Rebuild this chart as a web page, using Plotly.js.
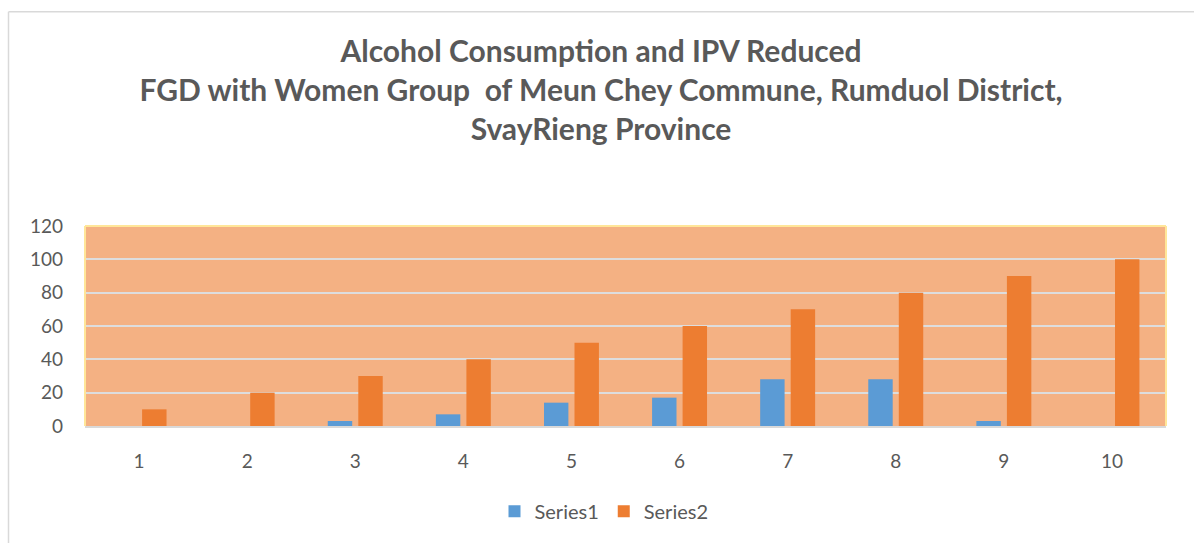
<!DOCTYPE html>
<html>
<head>
<meta charset="utf-8">
<script src="https://cdn.plot.ly/plotly-3.0.1.min.js"></script>
<style>
  html, body { margin: 0; padding: 0; background: #ffffff; }
  #chart { width: 1194px; height: 543px; }
</style>
</head>
<body>
<div id="chart"></div>
<script>
// ---- data ----
const categories = ["1", "2", "3", "4", "5", "6", "7", "8", "9", "10"];
const series1Name = "Series1";
const series1Values = [0, 0, 3, 7, 14, 17, 28, 28, 3, 0];
const series2Name = "Series2";
const series2Values = [10, 20, 30, 40, 50, 60, 70, 80, 90, 100];
const titleLines = [
  "Alcohol Consumption and IPV Reduced",
  "FGD with Women Group  of Meun Chey Commune, Rumduol District,",
  "SvayRieng Province"
];
const yTickValues = [0, 20, 40, 60, 80, 100, 120];

// ---- layout geometry (pixels) ----
const W = 1194, H = 543;
const M = { l: 85, r: 28, t: 226, b: 115 };
const plotW = W - M.l - M.r, plotH = H - M.t - M.b;
const px2x = px => (px - M.l) / plotW;
const px2y = py => 1 - (py - M.t) / plotH;

const textColor = "#595959";
const fontFam = "Lato, 'Open Sans', 'Liberation Sans', sans-serif";

const traces = [
  {
    type: "bar",
    name: series1Name,
    x: categories,
    y: series1Values,
    marker: { color: "#5B9BD5" },
    hoverinfo: "x+y+name"
  },
  {
    type: "bar",
    name: series2Name,
    x: categories,
    y: series2Values,
    marker: { color: "#ED7D31" },
    hoverinfo: "x+y+name"
  }
];

const layout = {
  width: W,
  height: H,
  margin: M,
  paper_bgcolor: "#ffffff",
  plot_bgcolor: "#F4B183",
  barmode: "group",
  bargap: 0.435,
  bargroupgap: 0.2,
  font: { family: fontFam, color: textColor, size: 19 },
  title: {
    text: titleLines.join("<br>"),
    font: { family: fontFam, size: 30, color: textColor, weight: "bold" },
    x: 601 / W,
    xref: "container",
    xanchor: "center",
    y: 1 - 62 / H,
    yref: "container",
    yanchor: "middle"
  },
  xaxis: {
    type: "category",
    showgrid: false,
    showline: true,
    linecolor: "#D9D9D9",
    linewidth: 1.5,
    ticks: "",
    ticklabelstandoff: 17,
    tickfont: { family: fontFam, size: 19, color: textColor },
    fixedrange: true
  },
  yaxis: {
    range: [0, 120],
    tickvals: yTickValues,
    showgrid: true,
    gridcolor: "#DDDDDD",
    gridwidth: 1.5,
    zeroline: false,
    showline: false,
    ticks: "",
    ticklabelstandoff: 21,
    tickfont: { family: fontFam, size: 19, color: textColor },
    fixedrange: true
  },
  legend: {
    orientation: "h",
    x: px2x(604),
    xanchor: "center",
    y: px2y(514),
    yanchor: "middle",
    font: { family: fontFam, size: 20, color: textColor },
    itemclick: false,
    bgcolor: "rgba(0,0,0,0)"
  },
  showlegend: true,
  shapes: [
    // plot-area frame (left, top, right)
    { type: "line", xref: "paper", yref: "paper", x0: 0, x1: 0, y0: 0, y1: 1,
      line: { color: "#FFE699", width: 2 }, layer: "above" },
    { type: "line", xref: "paper", yref: "paper", x0: 0, x1: 1, y0: 1, y1: 1,
      line: { color: "#FFE699", width: 2 }, layer: "above" },
    { type: "line", xref: "paper", yref: "paper", x0: 1, x1: 1, y0: 0, y1: 1,
      line: { color: "#FFE699", width: 2 }, layer: "above" },
    // chart-area outer frame (left and top edges visible)
    { type: "line", xref: "paper", yref: "paper", x0: px2x(8.5), x1: px2x(8.5), y0: px2y(9.5), y1: px2y(560),
      line: { color: "#D9D9D9", width: 1.5 }, layer: "above" },
    { type: "line", xref: "paper", yref: "paper", x0: px2x(8.5), x1: px2x(1210), y0: px2y(9.5), y1: px2y(9.5),
      line: { color: "#D9D9D9", width: 1.5 }, layer: "above" }
  ]
};

Plotly.newPlot("chart", traces, layout, { displayModeBar: false, staticPlot: false });
</script>
</body>
</html>
